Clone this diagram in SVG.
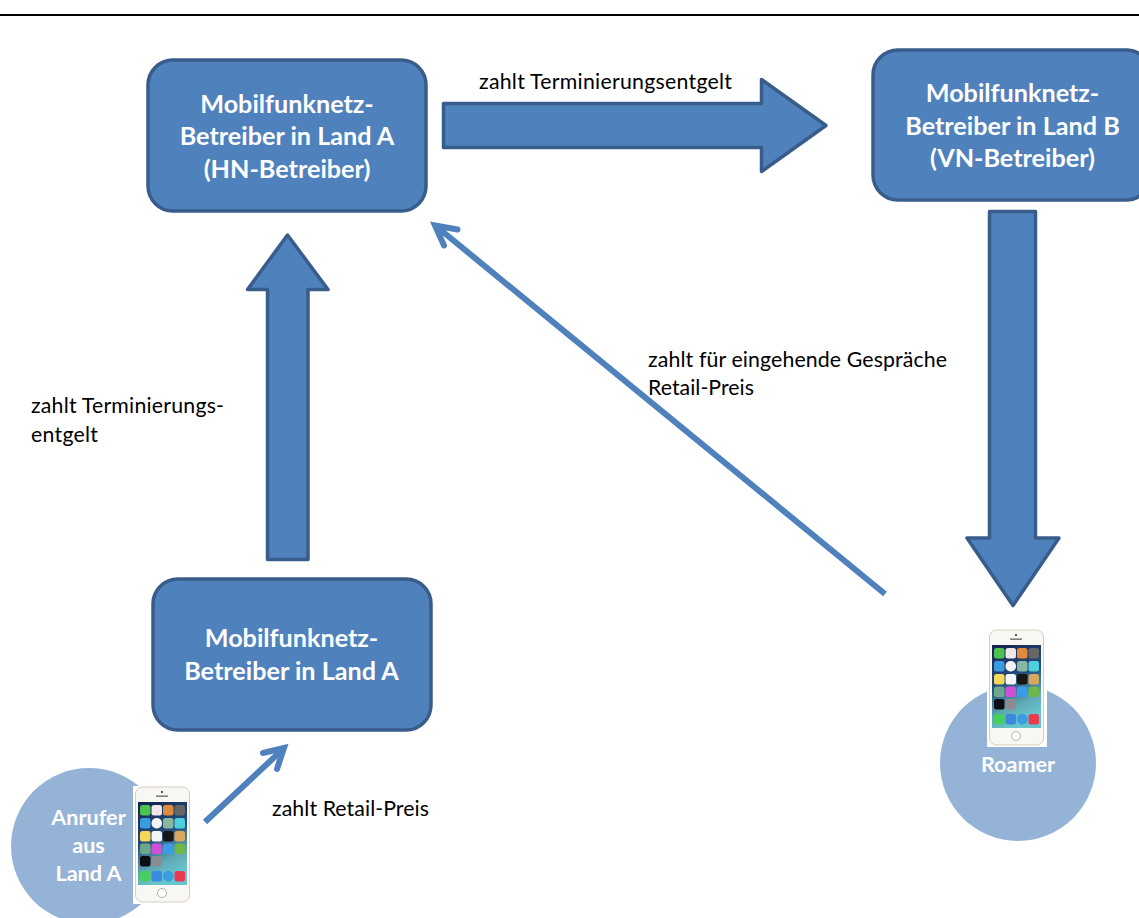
<svg xmlns="http://www.w3.org/2000/svg" xmlns:xlink="http://www.w3.org/1999/xlink" width="1139" height="918" viewBox="0 0 1139 918">
<style>
text{font-family:"Lato","Open Sans","Liberation Sans",sans-serif}
.box{fill:#4F81BD;stroke:#385D8A;stroke-width:3.5}
.big{fill:#4F81BD;stroke:#385D8A;stroke-width:3.5;stroke-linejoin:round}
.thin{fill:none;stroke:#4F81BD;stroke-width:6}
.nt{fill:#fff;font-weight:700;font-size:25.2px;text-anchor:middle}
.ct{fill:#fff;font-weight:700;font-size:21.6px;text-anchor:middle}
.lb{fill:#000;font-size:21.3px}
.person{fill:#95B3D7}
</style>
<defs>
<linearGradient id="scr" x1="0" y1="0" x2="0.3" y2="1">
<stop offset="0" stop-color="#16204e"/><stop offset="0.5" stop-color="#24507e"/><stop offset="0.8" stop-color="#5fa8b4"/><stop offset="1" stop-color="#66c4cc"/>
</linearGradient>
<filter id="soft" x="-5%" y="-5%" width="110%" height="110%"><feGaussianBlur stdDeviation="0.5"/></filter>
<g id="phone" filter="url(#soft)">
<rect x="0" y="0" width="60" height="118" fill="#fff"/>
<rect x="2.500" y="1" width="54" height="115" rx="7" fill="#f8f7f4" stroke="#cfc9ba" stroke-width="0.900"/>
<rect x="5" y="16" width="49" height="83" fill="url(#scr)"/>
<circle cx="29" cy="6" r="1" fill="#222"/>
<rect x="23" y="9.500" width="12" height="1.300" fill="#666"/>
<circle cx="29" cy="107" r="4.500" fill="#fff" stroke="#999" stroke-width="0.800"/>
<g>
<rect x="7" y="19" width="10.500" height="10.500" rx="2.500" fill="#4cc34e"/><rect x="18.500" y="19" width="10.500" height="10.500" rx="2.500" fill="#f0e6ea"/><rect x="30" y="19" width="10.500" height="10.500" rx="2.500" fill="#e08a3c"/><rect x="41.500" y="19" width="10.500" height="10.500" rx="2.500" fill="#666"/>
<rect x="7" y="32" width="10.500" height="10.500" rx="2.500" fill="#3a9be0"/><rect x="18.500" y="32" width="10.500" height="10.500" rx="5" fill="#f4f4f4"/><rect x="30" y="32" width="10.500" height="10.500" rx="2.500" fill="#8ab7a0"/><rect x="41.500" y="32" width="10.500" height="10.500" rx="2.500" fill="#4fd0de"/>
<rect x="7" y="45" width="10.500" height="10.500" rx="2.500" fill="#f5d75a"/><rect x="18.500" y="45" width="10.500" height="10.500" rx="2.500" fill="#f4f4f4"/><rect x="30" y="45" width="10.500" height="10.500" rx="2.500" fill="#161616"/><rect x="41.500" y="45" width="10.500" height="10.500" rx="2.500" fill="#d8a860"/>
<rect x="7" y="57.500" width="10.500" height="10.500" rx="2.500" fill="#6ea88c"/><rect x="18.500" y="57.500" width="10.500" height="10.500" rx="2.500" fill="#d050d8"/><rect x="30" y="57.500" width="10.500" height="10.500" rx="2.500" fill="#3c9ce8"/><rect x="41.500" y="57.500" width="10.500" height="10.500" rx="2.500" fill="#6cb84a"/>
<rect x="7" y="70" width="10.500" height="10.500" rx="2.500" fill="#0e0e14"/><rect x="18.500" y="70" width="10.500" height="10.500" rx="2.500" fill="#8c8c90"/>
<rect x="7" y="85" width="10.500" height="10.500" rx="2.500" fill="#46d060"/><rect x="18.500" y="85" width="10.500" height="10.500" rx="2.500" fill="#3a8ae0"/><rect x="30" y="85" width="10.500" height="10.500" rx="5" fill="#3a9ce0"/><rect x="41.500" y="85" width="10.500" height="10.500" rx="2.500" fill="#e83a50"/>
</g>
</g>
</defs>
<rect width="1139" height="918" fill="#fff"/>
<line x1="0" y1="15" x2="1139" y2="15" stroke="#000" stroke-width="2"/>
<g id="connectors">
<polygon class="big" points="443.500,103.500 761.500,103.500 761.500,79.500 826,125.500 761.500,171.500 761.500,147.500 443.500,147.500"/>
<polygon class="big" points="267.500,559.500 267.500,289.500 247.500,289.500 287.500,235 328,289.500 308,289.500 308,559.500"/>
<polygon class="big" points="989.500,211.500 1035.500,211.500 1035.500,538 1059,538 1013,605.500 967,538 989.500,538"/>
<line class="thin" x1="885" y1="594" x2="437" y2="227"/>
<polyline class="thin" stroke-linecap="round" points="457.500,229.500 435,225.500 444,245.500"/>
<line class="thin" x1="205" y1="822" x2="281" y2="751"/>
<polyline class="thin" stroke-linecap="round" points="263,753 284,748 277,769"/>
</g>
<g id="node-hn">
<rect class="box" x="148" y="60" width="278" height="151" rx="25"/>
<text class="nt" x="287" y="112.500">Mobilfunknetz-</text>
<text class="nt" x="287" y="145">Betreiber in Land A</text>
<text class="nt" x="287" y="177.500">(HN-Betreiber)</text>
</g>
<g id="node-vn">
<rect class="box" x="873" y="50" width="278" height="150" rx="25"/>
<text class="nt" x="1012.500" y="102">Mobilfunknetz-</text>
<text class="nt" x="1012.500" y="134.500">Betreiber in Land B</text>
<text class="nt" x="1012.500" y="167">(VN-Betreiber)</text>
</g>
<g id="node-a">
<rect class="box" x="153" y="579" width="278" height="151" rx="25"/>
<text class="nt" x="291.500" y="647">Mobilfunknetz-</text>
<text class="nt" x="291.500" y="679.500">Betreiber in Land A</text>
</g>
<g id="node-anrufer">
<circle class="person" cx="89" cy="846" r="78"/>
<text class="ct" x="88.500" y="825">Anrufer</text>
<text class="ct" x="88.500" y="853">aus</text>
<text class="ct" x="88.500" y="881">Land A</text>
<use xlink:href="#phone" href="#phone" x="133" y="786"/>
</g>
<g id="node-roamer">
<circle class="person" cx="1018" cy="763" r="78"/>
<use xlink:href="#phone" href="#phone" x="987" y="629"/>
<text class="ct" x="1018" y="772">Roamer</text>
</g>
<g id="labels">
<text class="lb" x="479" y="89" textLength="253" lengthAdjust="spacing">zahlt Terminierungsentgelt</text>
<text class="lb" x="31" y="413" textLength="193" lengthAdjust="spacing">zahlt Terminierungs-</text>
<text class="lb" x="31" y="442" textLength="67" lengthAdjust="spacing">entgelt</text>
<text class="lb" x="648" y="367" textLength="299" lengthAdjust="spacing">zahlt für eingehende Gespräche</text>
<text class="lb" x="648" y="395" textLength="106" lengthAdjust="spacing">Retail-Preis</text>
<text class="lb" x="272" y="816" textLength="157" lengthAdjust="spacing">zahlt Retail-Preis</text>
</g>
</svg>
